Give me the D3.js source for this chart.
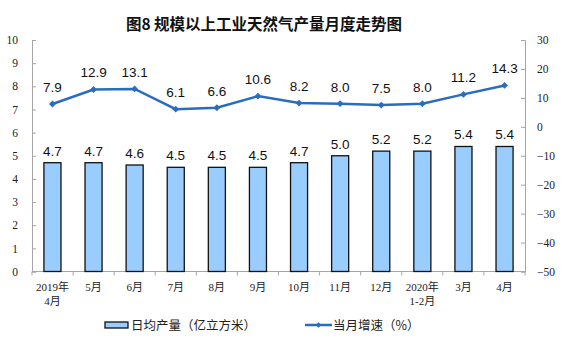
<!DOCTYPE html>
<html><head><meta charset="utf-8">
<script src="https://cdn.jsdelivr.net/npm/d3@7"></script>
<style>body{margin:0;background:#fff}</style>
</head><body><svg id="c" width="561" height="357"></svg>
<script>
const categories = [["2019年","4月"],["5月"],["6月"],["7月"],["8月"],["9月"],["10月"],["11月"],["12月"],["2020年","1-2月"],["3月"],["4月"]];
const output = [4.7,4.7,4.6,4.5,4.5,4.5,4.7,5.0,5.2,5.2,5.4,5.4];
const growth = [7.9,12.9,13.1,6.1,6.6,10.6,8.2,8.0,7.5,8.0,11.2,14.3];
const leftTicks = [0,1,2,3,4,5,6,7,8,9,10];
const rightTicks = [-50,-40,-30,-20,-10,0,10,20,30];
const title = "图8  规模以上工业天然气产量月度走势图";
const legendBar = "日均产量（亿立方米）";
const legendLine = "当月增速（%）";

const svg = d3.select("#c");
const L=32,R=525,T=40,B=271.5;
const x = d3.scaleBand().domain(d3.range(categories.length)).range([L,R]).paddingInner(0.585).paddingOuter(0.29);
const yL = d3.scaleLinear().domain([0,10]).range([B,T]);
const yR = d3.scaleLinear().domain([-50,30]).range([B,T]);
const serif = "'Liberation Serif','Noto Sans CJK SC',serif";
const sans = "'Liberation Sans',Arial,sans-serif";
const axisCol = "#a6a6a6";

svg.append("text").attr("x",264).attr("y",30).attr("text-anchor","middle")
  .attr("font-family","'Noto Sans CJK SC',sans-serif").attr("font-weight","bold").attr("font-size",15.5).attr("fill","#111").text(title);

// left axis
const gl = svg.append("g").attr("transform",`translate(${L},0)`)
  .call(d3.axisLeft(yL).tickValues(leftTicks).tickSize(-4).tickPadding(14));
// right axis
const gr = svg.append("g").attr("transform",`translate(${R},0)`)
  .call(d3.axisRight(yR).tickValues(rightTicks).tickSize(-4).tickPadding(12));
[gl,gr].forEach(g=>{
  g.select(".domain").attr("stroke",axisCol);
  g.selectAll(".tick line").attr("stroke",axisCol);
  g.selectAll("text").attr("font-family",serif).attr("font-size",11.5).attr("fill","#222");
});
// bottom axis
const step = x.step();
const gb = svg.append("g").attr("transform",`translate(0,${B})`);
gb.append("line").attr("x1",L).attr("x2",R).attr("stroke",axisCol);
gb.selectAll("line.t").data(d3.range(categories.length+1)).join("line").attr("class","t")
  .attr("x1",i=>L+i*(R-L)/categories.length).attr("x2",i=>L+i*(R-L)/categories.length)
  .attr("y1",0).attr("y2",4).attr("stroke",axisCol);
categories.forEach((c,i)=>{
  const t = gb.append("text").attr("x",x(i)+x.bandwidth()/2).attr("text-anchor","middle")
    .attr("font-family",serif).attr("font-size",11).attr("fill","#222");
  c.forEach((s,j)=>t.append("tspan").attr("x",x(i)+x.bandwidth()/2).attr("y",19+j*14).text(s));
});

// bars
svg.selectAll("rect.bar").data(output).join("rect").attr("class","bar")
  .attr("x",(d,i)=>x(i)).attr("width",x.bandwidth())
  .attr("y",d=>yL(d)).attr("height",d=>B-yL(d))
  .attr("fill","#99ccff").attr("stroke","#111").attr("stroke-width",1.3);
svg.selectAll("text.bl").data(output).join("text").attr("class","bl")
  .attr("x",(d,i)=>x(i)+x.bandwidth()/2).attr("y",d=>yL(d)-7).attr("text-anchor","middle")
  .attr("font-family",sans).attr("font-size",13.5).attr("fill","#111").text(d=>d.toFixed(1));

// line
const cx = i=>x(i)+x.bandwidth()/2;
svg.append("path").datum(growth).attr("fill","none").attr("stroke","#2a6cc0").attr("stroke-width",2.5)
  .attr("d",d3.line().x((d,i)=>cx(i)).y(d=>yR(d)));
svg.selectAll("path.m").data(growth).join("path").attr("class","m")
  .attr("transform",(d,i)=>`translate(${cx(i)},${yR(d)})`)
  .attr("d",d3.symbol(d3.symbolDiamond2,30)).attr("fill","#2a6cc0");
svg.selectAll("text.ll").data(growth).join("text").attr("class","ll")
  .attr("x",(d,i)=>cx(i)).attr("y",d=>yR(d)-12).attr("text-anchor","middle")
  .attr("font-family",sans).attr("font-size",13.5).attr("fill","#111").text(d=>d.toFixed(1));

// legend
const ly = 325;
svg.append("rect").attr("x",105).attr("y",ly-3).attr("width",23).attr("height",6)
  .attr("fill","#99ccff").attr("stroke","#111").attr("stroke-width",1.3);
svg.append("text").attr("x",131).attr("y",ly+4.5).attr("font-family","'Noto Sans CJK SC',sans-serif")
  .attr("font-size",12.5).attr("fill","#222").text(legendBar);
svg.append("line").attr("x1",305).attr("x2",332).attr("y1",ly).attr("y2",ly).attr("stroke","#2a6cc0").attr("stroke-width",2.5);
svg.append("path").attr("transform",`translate(318.5,${ly})`).attr("d",d3.symbol(d3.symbolDiamond2,20)).attr("fill","#2a6cc0");
svg.append("text").attr("x",333).attr("y",ly+4.5).attr("font-family","'Noto Sans CJK SC',sans-serif")
  .attr("font-size",12.5).attr("fill","#222").text(legendLine);
</script></body></html>
